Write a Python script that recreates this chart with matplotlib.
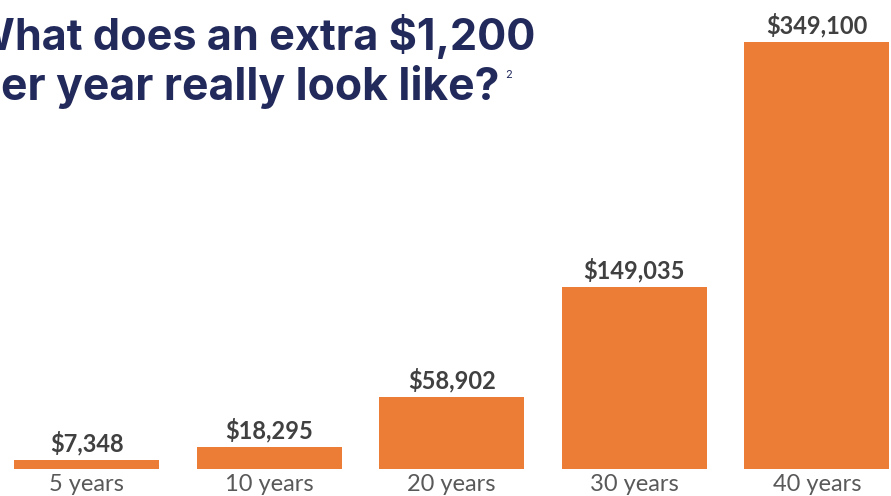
import matplotlib.pyplot as plt
import numpy as np

import matplotlib as mpl
mpl.rcParams['figure.dpi'] = 100

categories = ["5 years", "10 years", "20 years", "30 years", "40 years"]
values = [7348, 18295, 58902, 149035, 349100]
value_labels = ["$7,348", "$18,295", "$58,902", "$149,035", "$349,100"]

title_lines = ["What does an extra $1,200", "per year really look like?"]
footnote = "2"

orange = "#EB7D36"
navy = "#222A5C"
label_gray = "#404040"
cat_gray = "#595959"

W, H = 891, 496
f = plt.figure(figsize=(W / 100, H / 100))
ax = f.add_axes([0, 0, 1, 1])

x = np.arange(len(categories))
bars = ax.bar(x, values, width=0.794, color=orange)

ax.bar_label(bars, labels=value_labels, padding=3,
             fontsize=17, fontweight="bold", color=label_gray, family="Lato")

for i, c in enumerate(categories):
    ax.annotate(c, (i, 0), xytext=(0, -3.5), textcoords="offset points",
                ha="center", va="top", fontsize=17, color=cat_gray, family="Lato")

# bars span the whole figure width; baseline sits just above the bottom edge
ax.set_xlim(-0.474, 4.406)
ax.set_ylim(-22075, 383450)
ax.axis("off")

# title is cropped at the left edge in the original: fit each line so that
# its first letter is off-canvas and the rest spans the same pixels
title_opts = dict(fontweight="bold", color=navy, family="Inter",
                  ha="left", va="baseline")
r = f.canvas.get_renderer()


def text_w(s, size):
    t = f.text(0, 0, s, fontsize=size, **title_opts)
    w = t.get_window_extent(r).width
    t.remove()
    return w


# (line, visible left px, right px, baseline px)
fits = [(title_lines[0], 15, 535, 50), (title_lines[1], 1, 500, 100)]
for line, left, right, base in fits:
    size = 32 * (right - left) / (text_w(line, 32) - text_w(line[0], 32))
    x0 = left - text_w(line[0], size)
    f.text(x0 / W, 1 - base / H, line, fontsize=size, **title_opts)

f.text(505 / W, 1 - 78 / H, footnote, fontsize=8, color=navy, family="Inter",
       ha="left", va="baseline")

f.savefig("out.png")
